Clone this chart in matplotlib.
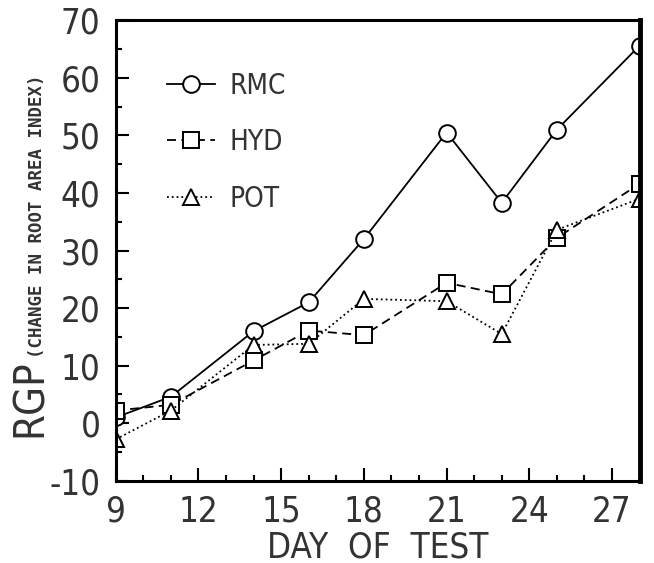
import matplotlib.pyplot as plt
from matplotlib.ticker import MultipleLocator

days = [9, 11, 14, 16, 18, 21, 23, 25, 28]
rmc = [1.0, 4.6, 16.0, 21.0, 32.0, 50.5, 38.3, 51.0, 65.6]
hyd = [2.2, 3.2, 10.9, 16.1, 15.3, 24.4, 22.4, 32.2, 41.6]
pot = [-2.8, 2.2, 13.6, 13.8, 21.6, 21.2, 15.5, 33.6, 39.0]

xticks = [9, 12, 15, 18, 21, 24, 27]
yticks = [-10, 0, 10, 20, 30, 40, 50, 60, 70]

tc = '#333333'

fig = plt.figure(figsize=(6.54, 5.63), dpi=100)
ax = fig.add_axes([0.177, 0.146, 0.801, 0.818])

mk = dict(color='black', lw=1.3, mfc='white', mec='black', mew=1.4)
ax.plot(days, rmc, '-', marker='o', ms=12, label='RMC', **mk)
ax.plot(days, hyd, '--', marker='s', ms=11, label='HYD', dashes=(5, 3), **mk)
ax.plot(days, pot, ':', marker='^', ms=12, label='POT', **mk)

ax.set_xlim(9, 28)
ax.set_ylim(-10, 70)
ax.set_xticks(xticks)
ax.set_yticks(yticks)
ax.set_xticklabels([str(v) for v in xticks])
ax.set_yticklabels([str(v) for v in yticks])
ax.xaxis.set_minor_locator(MultipleLocator(1))
ax.yaxis.set_minor_locator(MultipleLocator(5))
ax.tick_params(which='both', direction='in', top=False, right=False,
               width=1.5, color='black')
ax.tick_params(which='major', length=9.5, labelsize=25, labelcolor=tc)
ax.tick_params(axis='x', which='major', pad=10)
ax.tick_params(axis='y', which='major', pad=11)
ax.tick_params(which='minor', length=4.5)
for lab in ax.get_xticklabels() + ax.get_yticklabels():
    lab.set_fontstretch('condensed')
for s in ax.spines.values():
    s.set_linewidth(2.2)
ax.spines['right'].set_linewidth(3.5)

fig.text(0.577, 0.028, 'DAY  OF  TEST', fontsize=25, color=tc,
         fontstretch='condensed', ha='center', va='center')

fig.text(0.046, 0.224, 'RGP', rotation=90, fontsize=30, color=tc,
         fontstretch='condensed', ha='center', va='bottom')
fig.text(0.057, 0.364, '(CHANGE IN ROOT AREA INDEX)', rotation=90,
         fontsize=12.5, color=tc, family='DejaVu Sans Mono', ha='center',
         va='bottom', fontweight='bold')

leg = ax.legend(loc='upper left', bbox_to_anchor=(0.097, 0.888), frameon=False,
                handlelength=1.75, handletextpad=0.5, borderpad=0,
                borderaxespad=0, labelspacing=1.02,
                prop={'family': 'DejaVu Sans', 'stretch': 'condensed', 'size': 20})
for t in leg.get_texts():
    t.set_color(tc)

fig.savefig('out.png', dpi=100)
